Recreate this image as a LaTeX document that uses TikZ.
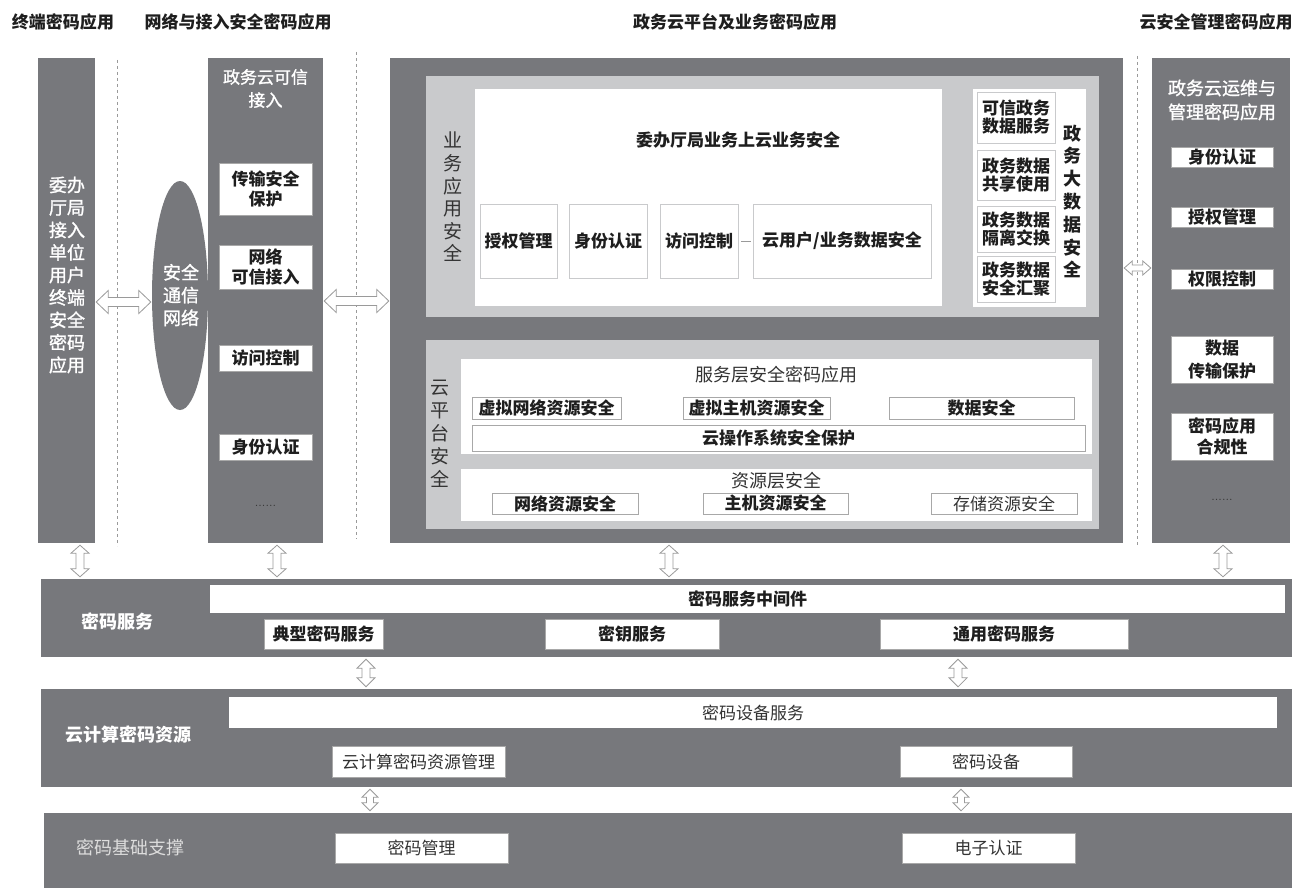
\documentclass[tikz,border=0pt]{standalone}
\usepackage{fontspec}
\newfontfamily\cjk{Noto Sans CJK SC}
\newfontfamily\cjkm{Noto Sans CJK SC}[FakeBold=1.3]
\usetikzlibrary{shapes.geometric,calc}
\definecolor{dk}{HTML}{77787C}
\definecolor{lt}{HTML}{C9CACC}
\definecolor{bd}{HTML}{A8A8A8}
\definecolor{ar}{HTML}{9A9A9A}
\definecolor{tx}{HTML}{1E1E1E}
\definecolor{txb}{HTML}{333333}
\definecolor{lbl}{HTML}{DDDDDD}
\newcommand\fz[2]{\fontsize{#1}{#2}\selectfont}
\begin{document}
\begin{tikzpicture}[x=1pt,y=-1pt,
  sz/.style 2 args={minimum width=#1pt, minimum height=#2pt},
  dkb/.style={fill=dk, draw=none, inner sep=0pt},
  ltb/.style={fill=lt, draw=none, inner sep=0pt},
  wbox/.style={fill=white, draw=bd, line width=0.6pt, inner sep=0pt, align=center, text=tx, font={\cjk\bfseries\fz{17}{18}}},
  hdr/.style={inner sep=0pt, text=tx, font={\cjk\bfseries\fz{17}{18}}},
  wt/.style={inner sep=0pt, text=white, align=center},
  btxt/.style={inner sep=0pt, text=tx, align=center, font={\cjk\bfseries\fz{17}{18}}},
  rtxt/.style={inner sep=0pt, text=txb, align=center, font={\cjk\fz{18}{18}}},
  vlab/.style={inner sep=0pt, text=txb, align=center, font={\cjk\fz{19}{22.6}}},
  dotsn/.style={inner sep=0pt, text=txb, font=\fz{13}{13}},
  sepl/.style={draw=ar, dashed, line width=0.7pt},
  thinl/.style={draw=ar, line width=0.8pt},
  arrowdims/.code n args={4}{\def\ahw{#1pt}\def\ahl{#2pt}\def\asw{#3pt}\def\agap{#4pt}},
  harrow/.style n args={3}{arrowdims={#1}{#2}{#3}{1}, draw=ar, fill=white, line width=0.8pt,
    to path={let \p1=(\tikztostart), \p2=(\tikztotarget) in
      (\x1+\agap,\y1) -- (\x1+\agap+\ahl,\y1+\ahw) -- (\x1+\agap+\ahl,\y1+\asw)
      -- (\x2-\agap-\ahl,\y1+\asw) -- (\x2-\agap-\ahl,\y1+\ahw) -- (\x2-\agap,\y1)
      -- (\x2-\agap-\ahl,\y1-\ahw) -- (\x2-\agap-\ahl,\y1-\asw)
      -- (\x1+\agap+\ahl,\y1-\asw) -- (\x1+\agap+\ahl,\y1-\ahw) -- cycle}},
  varrow/.style n args={3}{arrowdims={#1}{#2}{#3}{2}, draw=ar, fill=white, line width=0.8pt,
    to path={let \p1=(\tikztostart), \p2=(\tikztotarget) in
      (\x1,\y1-\agap) -- (\x1+\ahw,\y1-\agap-\ahl) -- (\x1+\asw,\y1-\agap-\ahl)
      -- (\x1+\asw,\y2+\agap+\ahl) -- (\x1+\ahw,\y2+\agap+\ahl) -- (\x1,\y2+\agap)
      -- (\x1-\ahw,\y2+\agap+\ahl) -- (\x1-\asw,\y2+\agap+\ahl)
      -- (\x1-\asw,\y1-\agap-\ahl) -- (\x1-\ahw,\y1-\agap-\ahl) -- cycle}}
]
\useasboundingbox[fill=white] (0,0) rectangle (1295,888);

% headers
\node[hdr] (h1) at (63,22) {终端密码应用};
\node[hdr] (h2) at (238,22) {网络与接入安全密码应用};
\node[hdr] (h3) at (735,22) {政务云平台及业务密码应用};
\node[hdr] (h4) at (1216,22) {云安全管理密码应用};

% dashed separators
\coordinate (d1t) at (117,60);  \coordinate (d1b) at (117,546);
\coordinate (d2t) at (356,52);  \coordinate (d2b) at (356,539);
\coordinate (d3t) at (1137,56); \coordinate (d3b) at (1137,545);
\draw[sepl] (d1t) -- (d1b);
\draw[sepl] (d2t) -- (d2b);
\draw[sepl] (d3t) -- (d3b);

% left column
\node[dkb, sz={57}{485}] (lcol) at (66.5,300.5) {};
\node[wt, font={\cjkm\fz{18}{22.5}}] (lcolt) at (67,275) {委办\\厅局\\接入\\单位\\用户\\终端\\安全\\密码\\应用};

% ellipse
\node[dkb, ellipse, minimum width=56pt, minimum height=229pt] (ell) at (180,295.5) {};
\node[wt, font={\cjkm\fz{18}{22.8}}] (ellt) at (181,295) {安全\\通信\\网络};

% column 2
\node[dkb, sz={115}{485}] (col2) at (265.5,300.5) {};
\node[wt, font={\cjkm\fz{17}{23}}] (col2t) at (265.5,88.5) {政务云可信\\接入};
\node[wbox, sz={93}{52}, font={\cjk\bfseries\fz{17}{20}}] (b21) at (265.5,189) {传输安全\\保护};
\node[wbox, sz={93}{44}, font={\cjk\bfseries\fz{17}{20}}] (b22) at (265.5,267) {网络\\可信接入};
\node[wbox, sz={93}{26}] (b23) at (265.5,358) {访问控制};
\node[wbox, sz={93}{26}] (b24) at (265.5,447) {身份认证};
\node[dotsn] (b25) at (265.5,506) {......};

% main block
\node[dkb, sz={733}{485}] (main) at (756.5,300.5) {};
\node[ltb, sz={673}{241}] (up) at (762.5,196.5) {};
\node[vlab] (upl) at (453,197) {业\\务\\应\\用\\安\\全};
\node[wbox, draw=lt, sz={468}{218}] (wb) at (708,197) {};
\node[btxt] (wbt) at (738,140) {委办厅局业务上云业务安全};
\node[wbox, draw=lt, sz={77}{74}] (s1) at (518.5,241) {授权管理};
\node[wbox, draw=lt, sz={78}{74}] (s2) at (608,241) {身份认证};
\node[wbox, draw=lt, sz={78}{74}] (s3) at (699,241) {访问控制};
\node[wbox, draw=lt, sz={178}{74}] (s4) at (842,241) {云用户/业务数据安全};
\draw[thinl, shorten <=3pt, shorten >=2pt] (s3) -- (s4);

\node[wbox, draw=lt, sz={114}{219}] (rb) at (1029,197.5) {};
\node[wbox, draw=lt, sz={78}{51}] (rb1) at (1016,117.5) {可信政务\\数据服务};
\node[wbox, draw=lt, sz={78}{50}] (rb2) at (1016,175) {政务数据\\共享使用};
\node[wbox, draw=lt, sz={78}{46}] (rb3) at (1016,229) {政务数据\\隔离交换};
\node[wbox, draw=lt, sz={78}{46}] (rb4) at (1016,279) {政务数据\\安全汇聚};
\node[btxt, font={\cjk\bfseries\fz{18}{22.8}}] (rbl) at (1072,201.5) {政\\务\\大\\数\\据\\安\\全};

\node[ltb, sz={673}{189}] (lo) at (762.5,434.5) {};
\node[vlab, font={\cjk\fz{19}{23}}] (lol) at (440,434) {云\\平\\台\\安\\全};
\node[wbox, draw=lt, sz={632}{96}] (sl) at (776,406) {};
\node[rtxt] (slt) at (776,375) {服务层安全密码应用};
\node[wbox, sz={149}{22}] (vn) at (546.5,408) {虚拟网络资源安全};
\node[wbox, sz={147}{22}] (vh) at (756.5,408) {虚拟主机资源安全};
\node[wbox, sz={185}{22}] (ds) at (981.5,408) {数据安全};
\node[wbox, sz={613}{26}] (os) at (778.5,438) {云操作系统安全保护};
\node[wbox, draw=lt, sz={632}{53}] (rl) at (776,494.5) {};
\node[rtxt] (rlt) at (776,481) {资源层安全};
\node[wbox, sz={146}{21}] (nr) at (565,503.5) {网络资源安全};
\node[wbox, sz={145}{21}] (hr) at (775.5,503.5) {主机资源安全};
\node[wbox, sz={146}{21}, font={\cjk\fz{17}{18}}, text=txb] (sr) at (1004,503.5) {存储资源安全};

% right column
\node[dkb, sz={138}{485}] (rcol) at (1221,300.5) {};
\node[wt, font={\cjkm\fz{18}{24}}] (rcolt) at (1222,100) {政务云运维与\\管理密码应用};
\node[wbox, sz={102}{20}] (r1) at (1222,157) {身份认证};
\node[wbox, sz={102}{20}] (r2) at (1222,217) {授权管理};
\node[wbox, sz={102}{20}] (r3) at (1222,279) {权限控制};
\node[wbox, sz={102}{47}, font={\cjk\bfseries\fz{17}{23}}] (r4) at (1222,359.5) {数据\\传输保护};
\node[wbox, sz={102}{47}, font={\cjk\bfseries\fz{17}{21}}] (r5) at (1222,436.5) {密码应用\\合规性};
\node[dotsn] (r6) at (1222,500) {......};

% bottom rows
\node[dkb, sz={1251}{78}] (svc) at (666.5,618) {};
\node[wt, font={\cjk\bfseries\fz{18}{18}}] (svcl) at (117,622) {密码服务};
\node[wbox, draw=none, sz={1075}{28}] (mw) at (747.5,599) {密码服务中间件};
\node[wbox, sz={119}{30}] (typ) at (323.5,634) {典型密码服务};
\node[wbox, sz={174}{30}] (key) at (632,634) {密钥服务};
\node[wbox, sz={248}{30}] (gen) at (1004,634) {通用密码服务};

\node[dkb, sz={1251}{98}] (res) at (666.5,738) {};
\node[wt, font={\cjk\bfseries\fz{18}{18}}] (resl) at (128,735) {云计算密码资源};
\node[wbox, draw=none, sz={1048}{31}, font={\cjk\fz{17}{18}}, text=txb] (dev) at (753,712.5) {密码设备服务};
\node[wbox, sz={173}{31}, font={\cjk\fz{17}{18}}, text=txb] (mgmt) at (418.5,761.5) {云计算密码资源管理};
\node[wbox, sz={172}{31}, font={\cjk\fz{17}{18}}, text=txb] (eq) at (986,761.5) {密码设备};

\node[dkb, sz={1248}{75}] (base) at (668,850.5) {};
\node[wt, text=lbl, font={\cjk\fz{18}{18}}] (basel) at (130,848) {密码基础支撑};
\node[wbox, sz={173}{30}, font={\cjk\fz{17}{18}}, text=txb] (cm) at (421.5,848) {密码管理};
\node[wbox, sz={173}{30}, font={\cjk\fz{17}{18}}, text=txb] (ea) at (988.5,848) {电子认证};

% horizontal double arrows
\coordinate (ya) at (0,302);
\coordinate (yb) at (0,301);
\coordinate (yc) at (0,268);
\draw[harrow={11.5}{12}{4.5}] (lcol.east |- ya) to (ell.west |- ya);
\draw[harrow={11.5}{12}{4.5}] (col2.east |- yb) to (main.west |- yb);
\draw[harrow={7}{8}{3}] (main.east |- yc) to (rcol.west |- yc);

% vertical double arrows
\coordinate (x1) at (80,0);
\coordinate (x2) at (277,0);
\coordinate (x3) at (669,0);
\coordinate (x4) at (1223,0);
\coordinate (x5) at (366,0);
\coordinate (x6) at (958,0);
\coordinate (x7) at (370,0);
\coordinate (x8) at (961,0);
\draw[varrow={9}{8}{4}] (lcol.south -| x1) to (svc.north -| x1);
\draw[varrow={9}{8}{4}] (col2.south -| x2) to (svc.north -| x2);
\draw[varrow={9}{8}{4}] (main.south -| x3) to (svc.north -| x3);
\draw[varrow={9}{8}{4}] (rcol.south -| x4) to (svc.north -| x4);
\draw[varrow={9}{9}{4}] (svc.south -| x5) to (res.north -| x5);
\draw[varrow={9}{9}{4}] (svc.south -| x6) to (res.north -| x6);
\draw[varrow={8}{8}{3.5}] (res.south -| x7) to (base.north -| x7);
\draw[varrow={8}{8}{3.5}] (res.south -| x8) to (base.north -| x8);
\end{tikzpicture}
\end{document}
